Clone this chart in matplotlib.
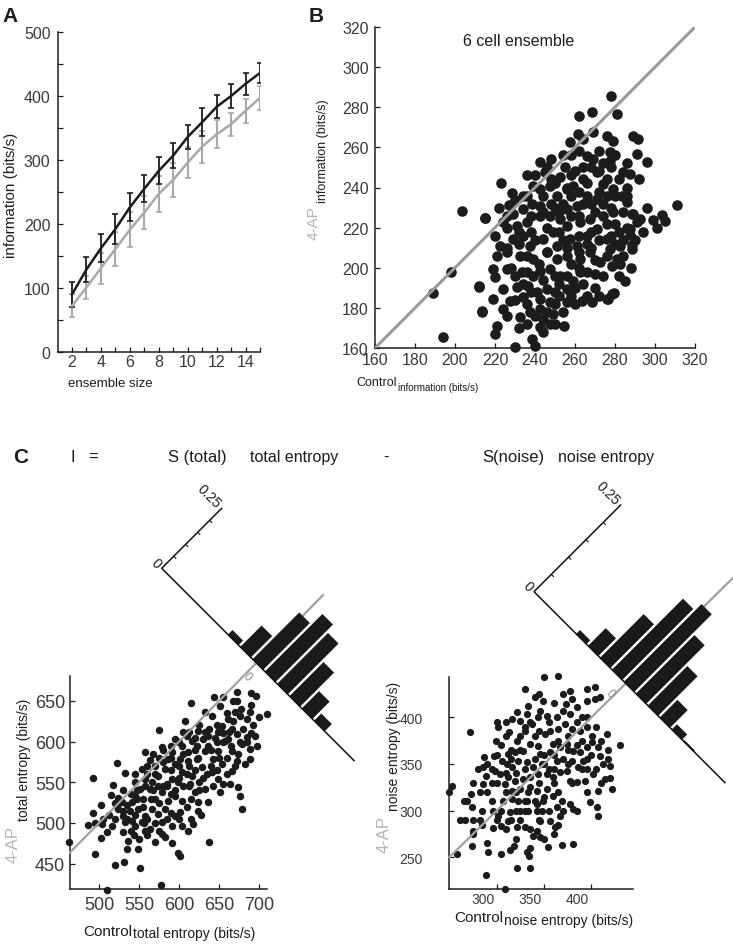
import numpy as np
import matplotlib
matplotlib.use("Agg")
import matplotlib.pyplot as plt
from matplotlib.transforms import Affine2D, ScaledTranslation

plt.rcParams['font.family'] = ['Liberation Sans', 'DejaVu Sans']

W, H = 733, 945
DARK = '#1e1b1b'
GREY = '#a9a9a9'
TXT = '#3a3a3a'

# === DATA ===
# A: information vs ensemble size (mean +- sd)
ens_size = list(range(2, 16))
ctrl_info = [90, 129, 162, 192, 226, 255, 283, 307, 336, 359, 383, 400, 419, 436]
ctrl_err = [20, 19, 22, 24, 22, 21, 21, 20, 19, 22, 18, 18, 17, 15]
ap_info = [72, 101, 131, 161, 191, 218, 247, 269, 296, 321, 340, 356, 377, 397]
ap_err = [18, 18, 24, 26, 27, 26, 28, 27, 24, 25, 22, 18, 19, 19]

# B: 6 cell ensembles, (control, 4-AP) information in bits/s
b_pts = np.array([
    (188.8, 187.5), (194.2, 165.3), (198, 197.7), (203.5, 228.5), (212, 190.7), (213.7, 178), (215, 225),
    (277.8, 285.8), (262.2, 275.5), (268.7, 277.5), (280.8, 276.6), (261.3, 266.7), (257.5, 262.5),
    (264.2, 264.2), (269.2, 267.5), (275.8, 265.8), (279.2, 263.4), (288.8, 265.8), (290.8, 256.7),
    (242.5, 252.6), (245, 247.6), (255, 250), (252.5, 245.1), (265.8, 255.9), (269.2, 254.2),
    (277.5, 257.5), (277.5, 253.4), (284.2, 247.6), (287.5, 246.7),
    (223, 242.1), (228.3, 237.1), (227, 231.3), (215, 224.8), (239.2, 240.9), (242.5, 239.3),
    (247.5, 240.9), (250.8, 236), (255.8, 239.3), (259.2, 240.9), (264.2, 244.3), (270.8, 247.6),
    (274.2, 241.8), (279.2, 239.3), (283.3, 236), (285.8, 232.6), (270.8, 234.3), (265.8, 236),
    (260.8, 231), (255.8, 229.3), (242.5, 230.9), (238.3, 231.8), (234.2, 229.3), (229.2, 226.8),
    (224.2, 222.7), (230.8, 221), (235.8, 222.7), (242.5, 226), (247.5, 226), (252.5, 224.3),
    (255.8, 221), (262.5, 222.7), (267.5, 224.3), (274.2, 226), (279.2, 227.6), (288.3, 226.8),
    (287.5, 219.3), (290.8, 222.7),
    (220, 216), (222.5, 211), (229.2, 214.3), (234.2, 216), (237.5, 211), (244.2, 214.3),
    (249.2, 217.7), (250.8, 211), (257.5, 214.3), (260.8, 211), (265.8, 216), (270.8, 219.3),
    (275.8, 214.3), (277.5, 209.4), (282.5, 211), (288.3, 209.4),
    (220.8, 206.1), (225.8, 207.7), (232.5, 206.1), (239.2, 204.4), (245.8, 207.7), (250.8, 204.4),
    (255.8, 206.1), (262.5, 204.4), (267.5, 207.7), (272.5, 202.7), (280.8, 204.4),
    (219.2, 199.4), (220, 195.2), (225.8, 199.4), (233.3, 197.7), (239.2, 196.1), (242.5, 198.6),
    (247.5, 199.4), (252.5, 196.1), (259.2, 193.6), (262.5, 197.7), (270, 196.9), (278.3, 201),
    (285, 193.6), (212.2, 190.6), (224.2, 189.4), (230.8, 190.3), (236.7, 191.1), (240.8, 187.8),
    (245.8, 189.4), (250, 187.8), (255.8, 189.4),
    (219.2, 184.5), (227.5, 183.6), (234.2, 185.3), (242.5, 184.5), (247.5, 182.8), (256.2, 182.8),
    (263.3, 183.6), (268.3, 183.1), (275.8, 184.5), (279.5, 187.5),
    (213.3, 178.6), (224.2, 179.5), (232.5, 175.3), (237.5, 177.8), (242.5, 179.5), (244.2, 174.5),
    (249.2, 177), (242.5, 170.3), (247.5, 172), (254.7, 170.8), (220.8, 171.2), (220, 167),
    (238.3, 164.5), (240, 160.8), (230, 160.7),
    (291.7, 264.3), (295.8, 252.7), (289.2, 226.9), (292.5, 224.4), (299.2, 223.6), (300.8, 219.7),
    (303.3, 226.1), (305, 223.1), (310.8, 231.4), (287.5, 216.1), (288.3, 211.1), (278.3, 187),
    (276.7, 184.5), (282.5, 201.9),
    (248, 232), (252, 228), (258, 236), (262, 226), (268, 232), (272, 238), (276, 244), (280, 236),
    (284, 228), (266, 212), (262, 208), (254, 214), (246, 220), (240, 214), (236, 206), (250, 196),
    (258, 202), (270, 204), (274, 196), (282, 218), (286, 240), (278, 250), (272, 258), (264, 250),
    (258, 256), (248, 244), (244, 236), (238, 226), (232, 218), (226, 210), (228, 200), (234, 192),
    (244, 194), (252, 186), (260, 190), (266, 198), (268, 218), (276, 222), (280, 212), (284, 206),
    (236, 236), (240, 246), (246, 250), (250, 242), (254, 232), (258, 246), (262, 238), (266, 242),
    (268, 250), (272, 248), (276, 236), (278, 230), (282, 244), (286, 252), (280, 256), (274, 252),
    (262, 258), (256, 240), (252, 218), (256, 210), (262, 216), (268, 210), (272, 214), (278, 216),
    (284, 214), (290, 214), (286, 220), (280, 222), (270, 228), (264, 232), (258, 226), (250, 230),
    (244, 228), (238, 218), (232, 212), (226, 220), (222, 230), (234, 236), (246, 208), (242, 202),
    (236, 198), (230, 196), (238, 188), (246, 178), (250, 182), (254, 178), (252, 192), (258, 186),
    (264, 192), (270, 190), (272, 186), (266, 186), (260, 182), (236, 182), (230, 184), (226, 176),
    (236, 172), (244, 168), (250, 172), (240, 176), (232, 170), (256, 196), (262, 200), (276, 206),
    (282, 196), (288, 200), (274, 232), (286, 236), (292, 244), (296, 230), (294, 218), (260, 248),
    (254, 256), (248, 254), (236, 246), (230, 234), (226, 226),
])

# C left: total entropy (control, 4-AP)
tot_pts = np.array([
    (462.5, 476.3), (509.6, 418.1), (577.5, 423.8), (492.9, 555), (522.1, 573.8), (575.4, 614.4),
    (615, 647.6), (644.2, 654.5), (672.1, 660.7), (695.8, 656.6), (710.4, 634.1), (495, 461.9),
    (520, 448.4), (531.7, 451.7), (551.7, 444.7), (502.5, 522.2), (492.9, 512.3), (485.8, 497.6),
    (503.3, 498.8), (502.5, 481.2), (509.6, 489.4), (532.5, 561.5), (517.9, 546.8), (515, 534.5),
    (524.2, 530.4), (534.6, 522.2), (524.2, 517.3), (520, 505), (530.4, 509.1), (538.8, 515.2),
    (545, 533.7), (551.3, 541.9), (557.5, 587.8), (563.8, 577.9), (559.6, 570.5), (578.3, 593.1),
    (590.8, 586.9), (595, 603.3), (607.5, 625.9), (609.6, 607.4), (615.8, 601.3), (603.3, 595.1),
    (624.2, 613.6), (630.4, 603.3), (636.7, 607.4), (640.8, 632), (651.3, 644.3), (653.3, 619.7),
    (661.7, 627.9), (667.9, 650.5), (670, 636.1), (676.3, 632), (688.8, 636.1), (684.6, 627.9),
    (692.9, 620.5), (695, 607.4), (684.6, 605.4), (678.3, 597.2), (688.8, 591), (665.8, 615.6),
    (657.5, 601.3), (647.1, 599.2), (649.2, 589), (665.8, 589), (674.2, 584.9), (688.8, 578.7),
    (682.5, 572.6), (665.8, 564.4), (653.3, 572.6), (642.9, 578.7), (632.5, 589), (622.1, 578.7),
    (628.3, 568.5), (640.8, 562.4), (649.2, 554.1), (651.3, 537.8), (663.8, 548), (674.2, 543.9),
    (676.3, 533.7), (678.3, 517.3), (636.7, 525.5), (624.2, 525.5), (620, 537.8), (613.8, 548),
    (615.8, 558.3), (603.3, 562.4), (599.2, 550), (590.8, 554.1), (582.5, 566.4), (574.2, 558.3),
    (565.8, 550), (557.5, 554.1), (553.3, 566.4), (545, 550), (555.4, 529.6), (563.8, 541.9),
    (570, 529.6), (578.3, 537.8), (586.7, 527.5), (595, 533.7), (603.3, 527.5), (601.3, 513.2),
    (595, 509.1), (582.5, 517.3), (574.2, 511.1), (565.8, 517.3), (557.5, 509.1), (549.2, 517.3),
    (540.8, 502.9), (545, 496.8), (553.3, 500.9), (563.8, 492.7), (578.3, 500.9), (590.8, 496.8),
    (603.3, 496.8), (611.7, 490.6), (617.9, 498.8), (578.3, 486.5), (570, 476.3), (582.5, 482.4),
    (557.5, 490.6), (549.2, 468.1), (534.6, 468.1), (536.7, 478.3), (530.4, 488.6), (515.8, 496.8),
    (591.7, 475.4), (599.2, 463.2), (601.3, 459.9), (637.5, 477.1), (624.2, 515.2), (632.5, 541.9),
    (632.5, 636.1), (649.2, 611.5), (661.7, 603.3), (672.1, 609.5), (672.1, 576.7), (611.7, 576.7),
    (601.3, 578.7), (595, 572.6), (586.7, 578.7), (611.7, 587), (622.1, 595.1), (584.6, 548),
    (574.2, 545.9), (540.8, 525.5), (528.3, 525.5), (522.1, 521.4), (532.5, 500.9),
    (560, 560), (570, 570), (580, 575), (590, 565), (600, 570), (610, 560), (620, 565), (630, 555),
    (640, 570), (650, 580), (585, 545), (595, 540), (605, 545), (615, 530), (625, 540), (575, 525),
    (565, 530), (555, 520), (545, 510), (535, 505), (548, 530), (560, 505), (570, 500), (590, 512),
    (610, 520), (640, 590), (655, 600), (665, 595), (680, 615), (660, 560), (620, 590), (605, 585),
    (590, 595), (575, 580), (545, 560), (530, 540),
    (600, 600), (612, 612), (625, 620), (638, 615), (645, 605), (655, 610), (668, 625), (678, 640),
    (690, 645), (700, 630), (685, 600), (670, 570), (660, 580), (648, 565), (635, 560), (625, 550),
    (612, 545), (600, 555), (590, 580), (580, 590), (568, 585), (570, 560), (558, 545), (548, 540),
    (540, 535), (530, 515), (520, 525), (512, 510), (505, 505), (495, 500), (540, 490), (550, 480),
    (560, 485), (575, 490), (585, 505), (600, 505), (615, 505), (628, 510), (612, 570), (624, 580),
    (636, 595), (648, 620), (660, 635), (672, 650), (690, 660), (655, 655), (580, 545), (590, 535),
    (568, 540), (556, 500), (544, 485), (620, 605), (632, 612), (605, 612), (690, 610), (698, 595),
    (676, 600), (662, 612), (642, 545), (655, 548),
])

# C right: noise entropy (control, 4-AP)
noise_pts = np.array([
    (308.7, 216), (349.9, 442.8), (364.4, 443.9), (288.7, 231.4), (321.8, 238.5), (335.1, 238.5),
    (252.4, 326.7), (250, 319.6), (271.8, 384.6), (258.4, 253.5), (274.2, 261.7), (291.1, 255.3),
    (304.5, 253.5), (314, 257.8), (318.2, 262.5), (332.3, 255.3), (334.4, 251.8), (354.5, 261.4),
    (368.6, 263.2), (380.9, 264.2), (261.2, 290), (266.5, 290), (274.6, 290), (282.3, 290),
    (275.3, 278.5), (269, 310.7), (273.5, 304.2), (272.5, 317.8), (282.3, 319.6), (285.9, 328.5),
    (288.7, 337.5), (285.2, 347.1), (286.9, 357.1), (297.5, 358.9), (301, 390), (299.2, 374.3),
    (294.7, 310.7), (296.4, 300), (295.7, 281), (301.7, 294.6), (304.5, 283.9), (312.3, 289.2),
    (314, 298.2), (307, 310.7), (315.8, 312.5), (324.6, 300), (333.4, 300), (329.9, 282.1),
    (321.1, 282.1), (342.2, 300), (345.7, 289.2), (356.3, 289.2), (361.5, 282.1), (342.2, 278.5),
    (345.7, 271.4), (338.7, 273.2), (315.8, 398.2), (324.6, 396.4), (333.4, 412.5), (340.4, 421.4),
    (349.2, 417.8), (345.7, 407.1), (331.6, 403.6), (321.1, 405.3), (313.3, 383.9), (321.1, 375),
    (329.9, 385.7), (336.9, 392.8), (343.9, 400), (352.7, 401.8), (363.3, 400), (370.3, 425),
    (377.4, 428.5), (373.1, 414.3), (370.3, 407.1), (377.4, 403.6), (384.4, 410.7), (389.7, 400),
    (395, 417.8), (403.8, 432.8), (403.8, 419.6), (409.1, 421.4), (400.3, 380.3), (416.1, 382.1),
    (430.2, 370.3), (421.4, 323.2), (407.3, 294.6), (405.5, 303.5), (398.5, 308.9), (407.3, 321.4),
    (414.3, 333.9), (419.6, 348.2), (417.9, 355.3), (409.1, 358.9), (407.3, 367.9), (400.3, 373.2),
    (395, 367.9), (387.9, 362.5), (391.5, 353.5), (386.2, 346.4), (395, 344.6), (402, 339.3),
    (393.2, 332.1), (384.4, 330.3), (377.4, 332.1), (373.9, 342.8), (379.1, 353.5), (380.9, 364.3),
    (373.9, 371.4), (366.8, 367.9), (359.8, 371.4), (356.3, 362.5), (363.3, 353.5), (366.8, 341),
    (359.8, 335.7), (352.7, 339.3), (347.5, 350), (345.7, 360.7), (343.9, 369.6), (335.1, 371.4),
    (328.1, 364.3), (319.3, 362.5), (312.3, 360.7), (310.5, 350), (315.8, 346.4), (322.8, 353.5),
    (331.6, 351.8), (338.7, 346.4), (343.9, 339.3), (335.1, 335.7), (328.1, 333.9), (319.3, 332.1),
    (312.3, 335.7), (308.7, 328.5), (315.8, 321.4), (324.6, 323.2), (333.4, 319.6), (342.2, 321.4),
    (352.7, 323.2), (359.8, 316), (368.6, 310.7), (363.3, 303.5), (377.4, 307.1), (380.9, 301.8),
    (366.8, 294.6), (322.8, 310.7), (331.6, 310.7), (349.2, 310.7), (342.2, 307.1), (347.5, 300),
    (303.5, 339.3), (305.2, 353.5), (298.2, 342.8), (395, 389.3), (387.9, 385.7), (379.1, 387.5),
    (372.1, 392.8), (365, 387.5), (356.3, 385.7), (351, 382.1), (389.7, 375), (412.6, 350),
    (320, 340), (330, 345), (340, 355), (350, 360), (325, 365), (315, 355), (335, 325), (345, 330),
    (355, 345), (360, 360), (370, 355), (375, 365), (385, 370), (330, 310), (320, 300), (310, 320),
    (300, 330), (350, 315), (360, 330), (340, 380), (330, 390), (310, 395), (305, 370), (295, 345),
    (290, 320), (345, 290), (335, 280), (360, 275), (370, 300), (380, 330), (395, 355), (405, 345),
    (300, 290), (285, 300), (310, 280),
    (315, 365), (325, 380), (335, 395), (345, 385), (355, 395), (365, 375), (375, 380), (385, 395),
    (395, 400), (405, 390), (410, 375), (418, 365), (400, 360), (390, 345), (375, 350), (365, 320),
    (355, 300), (340, 310), (330, 300), (320, 320), (310, 340), (300, 360), (290, 350), (295, 330),
    (305, 300), (315, 290), (325, 290), (335, 260), (350, 270), (365, 285), (385, 300), (395, 320),
    (410, 330), (420, 335), (330, 430), (345, 425), (360, 415), (380, 420), (395, 430), (310, 380),
    (300, 395), (280, 345), (275, 330), (265, 310), (285, 285), (275, 275), (290, 265), (320, 270),
    (350, 350), (360, 345),
])

# C histograms of (control - 4-AP), fraction of ensembles
tot_hist_bins = [-60, -30, 0, 30, 60, 90, 120, 150]
tot_hist_frac = [0.019, 0.089, 0.195, 0.24, 0.212, 0.142, 0.072, 0.03]
noise_hist_bins = [-87.5, -62.5, -37.5, -12.5, 12.5, 37.5, 62.5, 87.5, 112.5, 137.5]
noise_hist_frac = [0.011, 0.051, 0.126, 0.205, 0.224, 0.169, 0.114, 0.051, 0.015, 0.003]


def px(x, y):
    # image pixel (top-left origin) -> figure fraction
    return x / W, 1 - y / H


def style(ax, fs, ypad, xpad):
    for s in ['top', 'right']:
        ax.spines[s].set_visible(False)
    for s in ['left', 'bottom']:
        ax.spines[s].set_linewidth(1.1)
        ax.spines[s].set_color(DARK)
    ax.tick_params(which='both', direction='in', length=3.5, width=0.9, color=DARK,
                   labelcolor=TXT, labelsize=fs)
    ax.tick_params(axis='y', pad=ypad)
    ax.tick_params(axis='x', pad=xpad)


fig = plt.figure(figsize=(W / 100, H / 100), dpi=100)

# === PANEL A ===
axA = fig.add_axes([57.5 / W, 1 - 353 / H, 202.5 / W, 320 / H])
axA.errorbar(ens_size, ap_info, yerr=ap_err, color=GREY, lw=1.8, elinewidth=1.5,
             capsize=2, capthick=1.2)
axA.errorbar(ens_size, ctrl_info, yerr=ctrl_err, color=DARK, lw=1.8, elinewidth=1.3,
             capsize=2, capthick=1.2)
axA.set_xlim(1, 15)
axA.set_ylim(0, 500)
axA.set_xticks(range(2, 15, 2))
axA.set_xticks(range(3, 16, 2), minor=True)
axA.set_yticks(range(0, 501, 100))
axA.set_yticks(range(50, 500, 100), minor=True)
style(axA, 11.5, 5, 1.5)
fig.text(*px(11, 195), 'information (bits/s)', rotation=90, ha='center', va='center',
         fontsize=11, color=DARK)
fig.text(*px(110, 384), 'ensemble size', ha='center', va='center', fontsize=9.5, color=DARK)

# === PANEL B ===
axB = fig.add_axes([375 / W, 1 - 349 / H, 320 / W, 321 / H])
axB.plot([160, 320], [160, 320], color='#9a9a9a', lw=2.2, zorder=4)
axB.scatter(b_pts[:, 0], b_pts[:, 1], s=58, color=DARK, linewidths=0, zorder=3, clip_on=False)
axB.set_xlim(160, 320)
axB.set_ylim(160, 320)
axB.set_xticks(range(160, 321, 20))
axB.set_yticks(range(160, 321, 20))
style(axB, 11.5, 4.5, 3)
fig.text(*px(463, 46), '6 cell ensemble', fontsize=11.5, color=DARK)
fig.text(*px(314, 240), '4-AP', rotation=90, ha='center', va='bottom', fontsize=11, color='#b5b5b5')
fig.text(*px(323, 203), 'information (bits/s)', rotation=90, ha='center', va='bottom',
         fontsize=9, color=DARK)
fig.text(*px(397, 386), 'Control', ha='right', va='baseline', fontsize=9, color=DARK)
fig.text(*px(398, 391), 'information (bits/s)', ha='left', va='baseline', fontsize=7, color=DARK)

# === PANEL C scatters ===
axCL = fig.add_axes([70 / W, 1 - 890 / H, 197 / W, 213.3 / H])
axCL.scatter(tot_pts[:, 0], tot_pts[:, 1], s=29, color=DARK, linewidths=0, zorder=3, clip_on=False)
axCL.plot([463.7, 780], [463.7, 780], color='#a0a0a0', lw=1.6, zorder=4, clip_on=False)
axCL.set_xlim(463.7, 710)
axCL.set_ylim(418.8, 681)
axCL.set_xticks(range(500, 701, 50))
axCL.set_yticks(range(450, 651, 50))
style(axCL, 13, 3.5, 5)

axCR = fig.add_axes([449.3 / W, 1 - 890 / H, 183.4 / W, 211.7 / H])
axCR.scatter(noise_pts[:, 0], noise_pts[:, 1], s=27, color=DARK, linewidths=0, zorder=3, clip_on=False)
axCR.plot([250, 550], [250, 550], color='#a0a0a0', lw=1.6, zorder=4, clip_on=False)
axCR.set_xlim(250, 443.6)
axCR.set_ylim(216, 442.9)
axCR.set_xticks(range(300, 401, 50))
axCR.set_yticks(range(250, 401, 50))
style(axCR, 10, 19, 2)
shift = ScaledTranslation(-14 / 100, 0, fig.dpi_scale_trans)
for lab in axCR.get_xticklabels():
    lab.set_transform(lab.get_transform() + shift)

# axis labels for C
fig.text(*px(13.5, 863), '4-AP', rotation=90, ha='center', va='bottom', fontsize=12, color='#b5b5b5')
fig.text(*px(24, 821), 'total entropy (bits/s)', rotation=90, ha='center', va='bottom',
         fontsize=10, color=DARK)
fig.text(*px(132, 936), 'Control', ha='right', va='baseline', fontsize=11, color=DARK)
fig.text(*px(133, 938), 'total entropy (bits/s)', ha='left', va='baseline', fontsize=10, color=DARK)
fig.text(*px(384, 853), '4-AP', rotation=90, ha='center', va='bottom', fontsize=12, color='#b5b5b5')
fig.text(*px(394, 811), 'noise entropy (bits/s)', rotation=90, ha='center', va='bottom',
         fontsize=10, color=DARK)
fig.text(*px(503, 922), 'Control', ha='right', va='baseline', fontsize=11, color=DARK)
fig.text(*px(504, 925), 'noise entropy (bits/s)', ha='left', va='baseline', fontsize=10, color=DARK)

# header of C
for xx, s, fs in [(71, 'I', 12), (88, '=', 12), (168, 'S (total)', 12), (250, 'total entropy', 11.5),
                  (383, '-', 12), (482, 'S(noise)', 12), (558, 'noise entropy', 11.5)]:
    fig.text(*px(xx, 462), s, fontsize=fs, color=DARK, va='baseline')

# === rotated histograms (overlay in figure pixels) ===
axO = fig.add_axes([0, 0, 1, 1], zorder=10)
axO.axis('off')


def rot_hist(ax, origin, tc, kx, kv, base_len, centers, fracs, width, zero_off):
    T = (Affine2D().scale(kx, kv).translate(tc, 0).rotate_deg(-45)
         .translate(*origin) + ax.transData)
    ax.bar(centers, fracs, width=width, color='#1a1a1a', linewidth=0, transform=T)
    d0 = -tc / kx
    d1 = (base_len - tc) / kx
    ax.plot([d1, d0, d0], [0, 0, 0.25], color='#111111', lw=1.1, transform=T)
    for v in [0.05, 0.1, 0.15, 0.2]:
        ax.plot([d0, d0 + 3 / kx], [v, v], color='#111111', lw=0.8, transform=T)
    ax.text(d0 - 4 / kx, 0, '0', transform=T, rotation=-45, rotation_mode='anchor',
            ha='right', va='center', fontsize=10, color=DARK)
    ax.text(d0 - 4 / kx, 0.25, '0.25', transform=T, rotation=-45, rotation_mode='anchor',
            ha='right', va='center', fontsize=10, color=DARK)
    ax.text(0, -zero_off / kv, '0', transform=T, rotation=-45, rotation_mode='anchor',
            ha='center', va='center', fontsize=8.5, color='#8c8c8c')


rot_hist(axO, (161.7, H - 569.3), 136, 0.58, 339, 272, tot_hist_bins, tot_hist_frac, 25.8, 16)
rot_hist(axO, (534, H - 592.7), 126, 0.676, 490, 270, noise_hist_bins, noise_hist_frac, 21.5, 18)
axO.set_xlim(0, W)
axO.set_ylim(0, H)

# panel letters
for xx, yy, s in [(2, 22, 'A'), (309, 22, 'B'), (13, 463, 'C')]:
    fig.text(*px(xx, yy), s, fontsize=15, fontweight='bold', color=DARK, va='baseline')

fig.savefig('out.png', dpi=100)
